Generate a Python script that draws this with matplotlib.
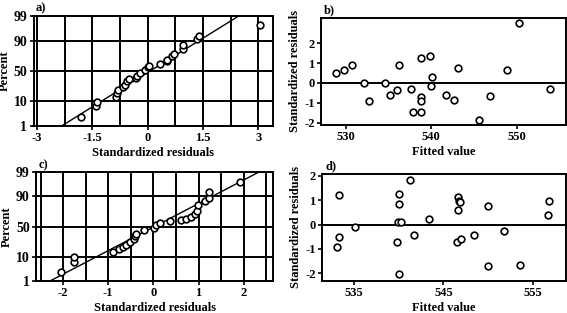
import numpy as np
import matplotlib
matplotlib.use("Agg")
import matplotlib.pyplot as plt
from statistics import NormalDist

plt.rcParams['font.family'] = ['Liberation Serif', 'DejaVu Serif']
plt.rcParams['font.weight'] = 'bold'
plt.rcParams['axes.unicode_minus'] = False

# ---- Panel a: normal probability plot (model 1)
a_resid = [-1.82, -1.41, -1.39, -0.87, -0.83, -0.81, -0.67, -0.61, -0.56, -0.52,
           -0.31, -0.29, -0.22, -0.07, 0.00, 0.03, 0.34, 0.51, 0.52, 0.67,
           0.70, 0.96, 0.97, 1.33, 1.39, 3.04]
a_pct = [2.5, 6.7, 9.5, 14, 18, 21, 25, 28, 33, 36,
         39, 42, 46, 52, 56, 58, 61, 66, 68, 74,
         76, 82, 86, 91, 93, 97.5]
a_line_x = [-2.34, 2.47]
a_line_p = [1, 99]
a_xticks = [-3, -1.5, 0, 1.5, 3]
a_xticklabels = ['-3', '-1.5', '0', '1.5', '3']

# ---- Panel b: residuals vs fitted (model 1)
b_fitted = [528.87, 529.84, 530.74, 532.14, 532.76, 534.58, 535.13, 535.94, 536.25,
            537.61, 537.81, 538.78, 538.85, 538.85, 538.85, 539.90, 539.94, 540.14,
            541.77, 542.62, 543.13, 545.57, 546.82, 548.87, 550.23, 553.88]
b_resid = [0.49, 0.63, 0.92, -0.02, -0.90, -0.02, -0.61, -0.34, 0.92,
           -0.31, -1.46, 1.27, -0.73, -0.90, -1.46, 1.37, -0.17, 0.29,
           -0.61, -0.86, 0.75, -1.86, -0.66, 0.64, 3.00, -0.31]
b_xticks = [530, 540, 550]
b_yticks = [2, 1, 0, -1, -2]

# ---- Panel c: normal probability plot (model 2)
c_resid = [-2.04, -1.76, -1.75, -0.90, -0.76, -0.68, -0.60, -0.52, -0.42, -0.40,
           -0.38, -0.20, 0.02, 0.05, 0.15, 0.37, 0.62, 0.73, 0.83, 0.92,
           0.96, 0.99, 1.15, 1.23, 1.24, 1.91]
c_pct = [2.6, 6.5, 9.5, 13.8, 16.5, 19.5, 22, 25, 30, 34,
         38, 44, 48, 52, 56, 59, 61, 63, 66, 70,
         75, 82, 86, 89, 93, 97]
c_line_x = [-2.29, 2.34]
c_line_p = [1, 99]
c_xticks = [-2, -1, 0, 1, 2]
c_xticklabels = ['-2', '-1', '0', '1', '2']

# ---- Panel d: residuals vs fitted (model 2)
d_fitted = [533.4, 533.4, 533.1, 535.1, 540.0, 540.0, 539.9, 540.3, 539.8, 540.0,
            541.3, 541.7, 543.4, 546.6, 546.7, 546.9, 546.6, 546.5, 547.0, 548.4,
            550.0, 550.0, 551.7, 553.5, 556.7, 556.8]
d_resid = [1.21, -0.52, -0.92, -0.11, 1.24, 0.86, 0.10, 0.10, -0.72, -2.04,
           1.85, -0.41, 0.21, 1.13, 0.99, 0.92, 0.58, -0.72, -0.59, -0.41,
           0.76, -1.72, -0.28, -1.66, 0.41, 0.97]
d_xticks = [535, 545, 555]
d_yticks = [2, 1, 0, -1, -2]

prob_ticks = [1, 10, 50, 90, 99]

nd = NormalDist()
_fwd = np.vectorize(lambda p: nd.inv_cdf(min(max(p, 1e-6), 100 - 1e-6) / 100.0), otypes=[float])
_inv = np.vectorize(lambda z: nd.cdf(z) * 100.0, otypes=[float])

def fwd(p):
    p = np.asarray(p, dtype=float)
    return _fwd(p) if p.size else p

def inv(z):
    z = np.asarray(z, dtype=float)
    return _inv(z) if z.size else z

W, H = 567, 313
fig = plt.figure(figsize=(W / 100, H / 100), dpi=100)

def ax_at(l, t, r, b):
    return fig.add_axes([l / W, 1 - b / H, (r - l) / W, (b - t) / H])

FS = 9
LW = 1.4

def style(ax, ysize=FS):
    for s in ax.spines.values():
        s.set_linewidth(LW)
    ax.tick_params(direction='out', length=3, width=1.2, labelsize=FS, pad=1.5)
    ax.tick_params(axis='y', labelsize=ysize)
    for lab in ax.get_xticklabels() + ax.get_yticklabels():
        lab.set_fontweight('bold')

mk = dict(marker='o', ls='none', ms=4.8, mfc='white', mec='black', mew=1.2, zorder=4)

def prob_panel(ax, x, p, lx, lp, xlim, xt, xtl, grid_x):
    ax.set_yscale('function', functions=(fwd, inv))
    ax.set_ylim(1, 99)
    ax.set_xlim(*xlim)
    for g in grid_x:
        ax.axvline(g, color='black', lw=LW, zorder=1)
    for g in prob_ticks:
        ax.axhline(g, color='black', lw=LW, zorder=1)
    ax.plot(lx, lp, color='black', lw=1.0, zorder=3)
    ax.plot(x, p, **mk)
    ax.set_yticks(prob_ticks)
    ax.set_yticklabels([str(v) for v in prob_ticks])
    ax.minorticks_off()
    ax.set_xticks(xt)
    ax.set_xticklabels(xtl)
    ax.set_xlabel('Standardized residuals', fontsize=FS, fontweight='bold', labelpad=2)
    ax.set_ylabel('Percent', fontsize=FS, fontweight='bold', labelpad=2)
    style(ax, ysize=10)

def resid_panel(ax, x, y, xlim, ylim, xt, yt):
    ax.axhline(0, color='black', lw=LW, zorder=1)
    ax.plot(x, y, **mk)
    ax.set_xlim(*xlim)
    ax.set_ylim(*ylim)
    ax.set_xticks(xt)
    ax.set_yticks(yt)
    ax.set_yticklabels([str(v) for v in yt])
    ax.set_xlabel('Fitted value', fontsize=FS, fontweight='bold', labelpad=2)
    ax.set_ylabel('Standardized residuals', fontsize=FS, fontweight='bold', labelpad=2)
    style(ax)

ax_a = ax_at(33.5, 16, 273, 126)
prob_panel(ax_a, a_resid, a_pct, a_line_x, a_line_p, (-3.1, 3.4), a_xticks, a_xticklabels,
           np.arange(-3, 3.01, 0.75))

ax_b = ax_at(321, 18, 565.5, 125)
resid_panel(ax_b, b_fitted, b_resid, (527.1, 555.7), (-2.12, 3.27), b_xticks, b_yticks)

ax_c = ax_at(36, 172, 273, 281)
prob_panel(ax_c, c_resid, c_pct, c_line_x, c_line_p, (-2.6, 2.65), c_xticks, c_xticklabels,
           np.arange(-2.5, 2.51, 0.5))

ax_d = ax_at(322, 174, 565.5, 281)
resid_panel(ax_d, d_fitted, d_resid, (531.47, 558.6), (-2.32, 2.08), d_xticks, d_yticks)

for txt, x, y in [('a)', 36, 8), ('b)', 324, 10), ('c)', 39, 165), ('d)', 325, 166)]:
    fig.text(x / W, 1 - y / H, txt, fontsize=FS, fontweight='bold', ha='left', va='center')

fig.savefig('out.png', dpi=100)
